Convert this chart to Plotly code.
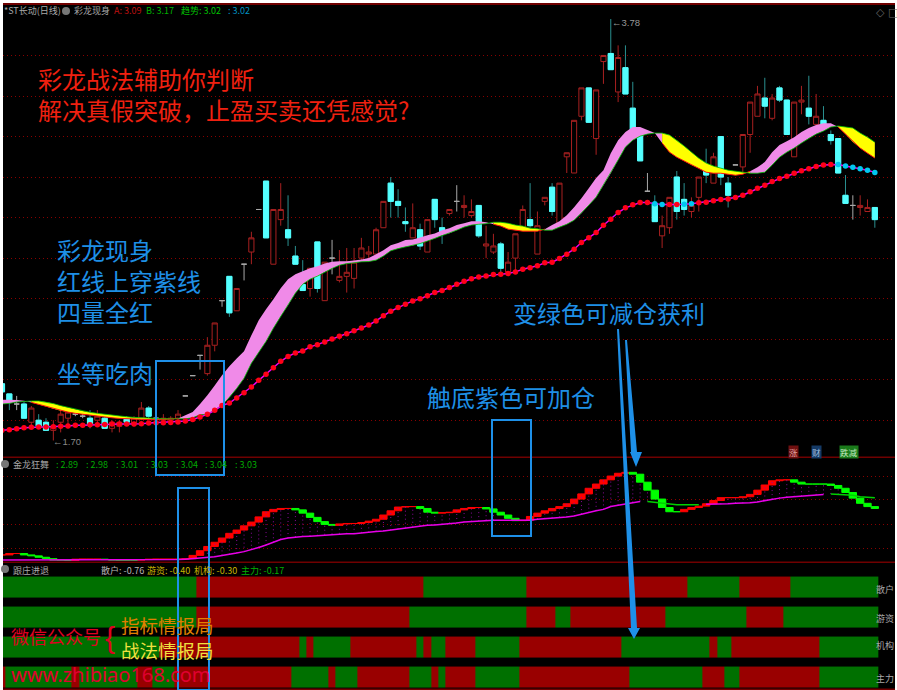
import plotly.graph_objects as go

W, H = 897, 690

opens = [1.98,1.93,1.88,1.88,1.79,1.80,1.79,1.75,1.79,1.81,
1.83,1.82,1.81,1.80,1.81,1.76,1.77,1.81,1.78,1.81,
1.86,1.81,1.80,1.80,1.81,1.92,2.02,2.12,2.03,2.17,
2.39,2.51,2.34,2.57,2.63,2.84,2.98,2.57,2.79,2.74,
2.61,2.47,2.45,2.68,2.39,2.60,2.49,2.51,2.50,2.60,
2.62,2.62,2.75,2.97,2.88,2.78,2.70,2.74,2.63,2.89,
2.75,2.82,2.88,2.85,2.81,2.86,2.66,2.63,2.67,2.53,
2.60,2.75,2.79,2.62,2.88,2.95,2.77,3.10,3.02,3.30,
3.44,3.19,3.57,3.61,3.42,3.54,3.34,3.22,2.93,2.87,
2.71,2.75,3.00,2.89,2.83,2.90,3.04,2.97,3.20,2.97,
3.06,3.05,3.21,3.30,3.39,3.29,3.44,3.38,3.10,3.37,
3.34,3.26,3.28,3.21,3.19,2.91,2.86,2.85,2.83,2.85]
closes = [1.94,1.90,1.88,1.81,1.86,1.77,1.75,1.77,1.83,1.84,
1.83,1.82,1.78,1.82,1.76,1.79,1.79,1.79,1.81,1.86,
1.82,1.81,1.81,1.81,1.83,1.92,2.02,2.12,2.17,2.28,
2.39,2.33,2.45,2.57,2.70,2.84,2.70,2.84,2.84,2.70,
2.57,2.44,2.55,2.45,2.58,2.60,2.51,2.53,2.58,2.65,
2.63,2.74,2.88,2.88,2.86,2.77,2.75,2.66,2.79,2.79,
2.72,2.84,2.88,2.86,2.83,2.71,2.67,2.66,2.55,2.58,
2.72,2.84,2.76,2.76,2.90,2.83,2.97,3.12,3.28,3.44,
3.27,3.43,3.60,3.53,3.59,3.41,3.23,3.08,2.93,2.78,
2.76,2.90,2.83,2.84,2.86,3.00,3.01,3.10,3.00,2.91,
3.06,3.21,3.37,3.41,3.35,3.39,3.38,3.21,3.37,3.38,
3.30,3.30,3.26,3.18,3.02,2.87,2.86,2.86,2.85,2.79]
highs = [1.98,1.93,1.92,1.89,1.87,1.83,1.81,1.80,1.85,1.85,
1.84,1.84,1.85,1.85,1.82,1.80,1.80,1.82,1.82,1.89,
1.87,1.82,1.83,1.82,1.85,1.92,2.02,2.12,2.21,2.28,
2.39,2.51,2.45,2.57,2.73,2.84,2.98,2.84,2.97,2.91,
2.66,2.59,2.55,2.68,2.58,2.69,2.64,2.65,2.65,2.70,
2.66,2.75,2.88,3.00,2.94,2.85,2.87,2.77,2.79,2.89,
2.80,2.84,2.96,2.91,2.89,2.86,2.76,2.72,2.68,2.63,
2.72,2.86,2.97,2.83,2.90,2.97,2.97,3.12,3.28,3.44,
3.44,3.43,3.60,3.78,3.65,3.65,3.47,3.22,3.02,2.91,
2.81,2.90,3.03,2.97,2.90,3.00,3.14,3.12,3.20,3.00,
3.06,3.21,3.37,3.45,3.49,3.41,3.45,3.38,3.37,3.45,
3.50,3.41,3.35,3.23,3.19,3.01,2.91,2.91,2.89,2.85]
lows = [1.94,1.85,1.85,1.81,1.76,1.76,1.75,1.70,1.74,1.76,
1.82,1.81,1.76,1.78,1.76,1.74,1.74,1.78,1.77,1.80,
1.81,1.80,1.80,1.79,1.80,1.92,2.02,2.05,2.02,2.14,
2.36,2.31,2.34,2.49,2.57,2.84,2.70,2.57,2.76,2.66,
2.57,2.44,2.41,2.43,2.39,2.52,2.48,2.43,2.45,2.59,
2.60,2.62,2.75,2.80,2.80,2.73,2.70,2.64,2.63,2.75,
2.67,2.81,2.83,2.80,2.80,2.70,2.60,2.62,2.53,2.53,
2.54,2.74,2.75,2.62,2.86,2.81,2.77,3.02,3.02,3.28,
3.27,3.11,3.46,3.53,3.37,3.41,3.23,3.08,2.93,2.78,
2.65,2.72,2.79,2.81,2.80,2.83,2.97,2.97,2.96,2.85,
3.06,3.02,3.12,3.30,3.29,3.28,3.37,3.21,3.10,3.31,
3.26,3.22,3.26,3.16,3.02,2.87,2.79,2.81,2.83,2.75]

trend = [1.750,1.753,1.758,1.763,1.765,1.766,1.766,1.768,1.770,1.771,
1.775,1.775,1.778,1.778,1.779,1.781,1.781,1.781,1.781,1.783,
1.786,1.788,1.788,1.789,1.791,1.796,1.804,1.816,1.829,1.849,
1.873,1.885,1.910,1.936,1.964,1.997,2.027,2.059,2.091,2.115,
2.132,2.142,2.162,2.173,2.186,2.201,2.214,2.227,2.241,2.255,
2.270,2.290,2.315,2.338,2.356,2.372,2.389,2.399,2.414,2.430,
2.440,2.455,2.471,2.486,2.498,2.507,2.512,2.519,2.521,2.524,
2.532,2.545,2.552,2.562,2.577,2.580,2.598,2.619,2.644,2.677,
2.700,2.726,2.762,2.792,2.825,2.848,2.863,2.874,2.874,2.868,
2.864,2.864,2.864,2.866,2.868,2.873,2.876,2.883,2.889,2.892,
2.899,2.910,2.927,2.945,2.960,2.978,2.993,3.004,3.019,3.031,
3.041,3.052,3.059,3.062,3.062,3.055,3.049,3.041,3.034,3.023]
trend_cyan = [89,90,93,94,114,115,116,117,118,119]

line_a = [1.901,1.901,1.900,1.896,1.888,1.878,1.868,1.857,1.847,1.840,
1.834,1.829,1.826,1.821,1.816,1.812,1.809,1.807,1.806,1.804,
1.804,1.802,1.804,1.806,1.809,1.824,1.840,1.880,1.923,1.972,
2.022,2.066,2.105,2.140,2.219,2.293,2.348,2.397,2.451,2.496,
2.520,2.535,2.550,2.560,2.573,2.582,2.585,2.585,2.588,2.593,
2.601,2.619,2.639,2.664,2.675,2.689,2.692,2.702,2.713,2.722,
2.738,2.748,2.763,2.772,2.782,2.782,2.777,2.767,2.758,2.743,
2.738,2.733,2.733,2.733,2.743,2.763,2.782,2.812,2.851,2.896,
2.945,2.995,3.034,3.118,3.182,3.222,3.247,3.247,3.232,3.217,
3.168,3.123,3.098,3.079,3.059,3.044,3.024,3.019,3.019,3.014,
3.009,3.014,3.029,3.049,3.074,3.123,3.158,3.177,3.197,3.222,
3.242,3.257,3.266,3.266,3.247,3.212,3.173,3.143,3.118,3.094]
line_b = [1.880,1.883,1.890,1.893,1.895,1.895,1.890,1.882,1.872,1.863,
1.854,1.845,1.839,1.834,1.829,1.826,1.821,1.817,1.814,1.812,
1.811,1.807,1.807,1.807,1.807,1.807,1.812,1.827,1.829,1.849,
1.873,1.913,1.957,2.007,2.081,2.135,2.189,2.254,2.313,2.367,
2.427,2.471,2.496,2.511,2.532,2.549,2.565,2.573,2.577,2.582,
2.583,2.590,2.610,2.636,2.647,2.656,2.662,2.672,2.684,2.697,
2.713,2.723,2.738,2.753,2.763,2.767,2.770,2.777,2.777,2.772,
2.763,2.758,2.748,2.745,2.738,2.738,2.753,2.767,2.787,2.822,
2.861,2.901,2.960,3.019,3.084,3.148,3.182,3.202,3.212,3.217,
3.217,3.207,3.182,3.153,3.123,3.093,3.069,3.054,3.044,3.034,
3.029,3.024,3.019,3.019,3.024,3.059,3.098,3.123,3.143,3.168,
3.192,3.212,3.227,3.247,3.252,3.247,3.242,3.217,3.197,3.172]

fast = [1.73,1.76,1.76,1.73,1.71,1.68,1.65,1.62,1.62,1.61,
1.64,1.64,1.64,1.64,1.63,1.62,1.62,1.62,1.62,1.63,
1.64,1.64,1.64,1.64,1.64,1.65,1.72,1.82,1.91,2.00,
2.09,2.19,2.26,2.35,2.43,2.54,2.65,2.70,2.72,2.72,
2.69,2.62,2.53,2.44,2.38,2.36,2.39,2.40,2.40,2.42,
2.45,2.49,2.58,2.67,2.75,2.76,2.76,2.72,2.64,2.62,
2.63,2.64,2.69,2.72,2.74,2.74,2.71,2.64,2.58,2.51,
2.46,2.47,2.55,2.62,2.67,2.72,2.76,2.82,2.92,3.03,
3.15,3.24,3.33,3.41,3.47,3.49,3.45,3.28,3.11,2.92,
2.74,2.65,2.65,2.70,2.74,2.77,2.82,2.89,2.95,2.95,
2.95,2.97,3.02,3.11,3.22,3.31,3.33,3.33,3.28,3.24,
3.24,3.24,3.24,3.21,3.15,3.06,2.94,2.83,2.76,2.72]
slow = [1.62,1.62,1.62,1.62,1.62,1.63,1.63,1.63,1.63,1.63,
1.63,1.63,1.63,1.63,1.63,1.63,1.63,1.63,1.63,1.63,
1.63,1.63,1.63,1.63,1.63,1.64,1.65,1.66,1.67,1.69,
1.72,1.74,1.77,1.80,1.84,1.89,1.94,2.00,2.06,2.09,
2.11,2.12,2.13,2.14,2.16,2.17,2.18,2.18,2.18,2.20,
2.21,2.23,2.24,2.26,2.28,2.31,2.33,2.35,2.36,2.37,
2.38,2.40,2.41,2.43,2.44,2.45,2.47,2.47,2.47,2.47,
2.47,2.47,2.47,2.49,2.50,2.52,2.53,2.54,2.56,2.60,
2.63,2.67,2.70,2.76,2.79,2.82,2.85,2.87,2.87,2.85,
2.83,2.82,2.80,2.80,2.80,2.80,2.81,2.81,2.81,2.82,
2.83,2.83,2.84,2.86,2.89,2.92,2.94,2.96,2.97,2.98,
2.99,3.01,3.02,3.03,3.02,3.01,3.00,2.97,2.96,2.95]
slow_green = list(range(88, 96)) + list(range(113, 120))

# change points for the four state strips; 1 = red, 0 = green, first run is given by the *_first value
retail_first, retail_changes = 0, [27,58,72,94,101,108]
hot_first, hot_changes = 0, [27,56,72,76,78,91,102,107]
inst_first, inst_changes = 0, [22,41,42,43,48,57,58,59,61,65,71,85,97,98,100,112]
main_first, main_changes = 1, [1,10,11,19,21,24,40,45,46,49,56,59,60,61,65,71,86,96,99,101,112]

price_grid = [3.6,3.4,3.2,3.0,2.8,2.6,2.4,2.2,2.0,1.8]
osc_grid = [3.41,2.92,2.37,1.86]

N = len(closes)
xs = list(range(N))
CN = "Noto Sans CJK SC"
def px(x): return x / W
def py(y): return 1 - y / H

fig = go.Figure()
RED_C, CY, TEAL, GRAY = "#a82020", "#54ffff", "#2a9090", "#a8a8a8"

def candle(idx, o, h, l, c, color, fill, width=1):
    fig.add_trace(go.Candlestick(x=idx, open=o, high=h, low=l, close=c, whiskerwidth=0,
        increasing=dict(line=dict(color=color, width=width), fillcolor=fill),
        decreasing=dict(line=dict(color=color, width=width), fillcolor=fill),
        hoverinfo="skip", showlegend=False))

up = [i for i in xs if closes[i] > opens[i]]
dn = [i for i in xs if closes[i] < opens[i]]
dj = [i for i in xs if closes[i] == opens[i]]
pick = lambda arr, idx: [arr[i] for i in idx]
candle(up, pick(opens,up), pick(highs,up), pick(lows,up), pick(closes,up), RED_C, "#000000")
candle(dn, pick(opens,dn), pick(highs,dn), pick(lows,dn), pick(closes,dn), TEAL, CY)
candle(dn, pick(opens,dn), pick(opens,dn), pick(closes,dn), pick(closes,dn), CY, CY)
candle(dj, pick(opens,dj), pick(highs,dj), pick(lows,dj), pick(closes,dj), GRAY, GRAY)

# ribbon: pink where A is above B, yellow where B is above A
start = 0
for i in range(1, N + 1):
    if i == N or (line_a[i] >= line_b[i]) != (line_a[start] >= line_b[start]):
        end = min(i, N - 1)
        seg = list(range(start, end + 1))
        rising = line_a[start] >= line_b[start]
        fig.add_trace(go.Scatter(x=seg + seg[::-1],
            y=pick(line_a, seg) + pick(line_b, seg)[::-1], fill="toself", mode="none",
            fillcolor="#f08ae8" if rising else "#ffff00", hoverinfo="skip", showlegend=False))
        if not rising:
            fig.add_trace(go.Scatter(x=seg, y=pick(line_a, seg), mode="lines",
                line=dict(color="#ff1010", width=1), hoverinfo="skip", showlegend=False))
        start = i
fig.add_trace(go.Scatter(x=xs, y=line_b, mode="lines", line=dict(color="#00c000", width=0.8),
    hoverinfo="skip", showlegend=False))

fig.add_trace(go.Scatter(x=xs, y=trend, mode="lines+markers",
    line=dict(color="#f000f0", width=1.5),
    marker=dict(size=5.5, color=["#00c8f0" if i in trend_cyan else "#ff0018" for i in xs], line=dict(width=0)),
    hoverinfo="skip", showlegend=False))

# oscillator panel
sx, sy = [], []
for i in xs:
    if i >= 28 and fast[i] - slow[i] > 0.12:
        sx += [i, i, None]; sy += [slow[i], fast[i], None]
fig.add_trace(go.Scatter(x=sx, y=sy, mode="lines", yaxis="y2",
    line=dict(color="#8a0a9a", width=1, dash="1px,3px"), hoverinfo="skip", showlegend=False))
bar_col, last = [], "#ff0000"
for i in xs:
    prev = fast[i - 1] if i else fast[i]
    if fast[i] > prev: last = "#ff0000"
    elif fast[i] < prev: last = "#00ff00"
    bar_col.append(last)
fig.add_trace(go.Bar(x=xs, y=[abs(fast[i] - (fast[i-1] if i else fast[i])) for i in xs],
    base=[min(fast[i], fast[i-1] if i else fast[i]) for i in xs], width=1, yaxis="y2",
    marker=dict(color=bar_col, line=dict(color=bar_col, width=1)), hoverinfo="skip", showlegend=False))
fig.add_trace(go.Scatter(x=xs, y=[None if i in slow_green else slow[i] for i in xs], mode="lines", yaxis="y2",
    line=dict(color="#e800e8", width=1.5), hoverinfo="skip", showlegend=False))
fig.add_trace(go.Scatter(x=xs, y=[slow[i] if i in slow_green else None for i in xs], mode="lines", yaxis="y2",
    line=dict(color="#00d000", width=1.5), hoverinfo="skip", showlegend=False))

# state strips
def expand(first, changes):
    out, s, c = [], first, 0
    for i in xs:
        if c < len(changes) and i == changes[c]:
            s, c = 1 - s, c + 1
        out.append(s)
    return out
rows = [expand(main_first, main_changes), expand(inst_first, inst_changes),
        expand(hot_first, hot_changes), expand(retail_first, retail_changes)]
fig.add_trace(go.Heatmap(z=rows, x=xs, y=[0, 1, 2, 3], zmin=0, zmax=1, ygap=9, showscale=False,
    colorscale=[[0, "#007000"], [1, "#990000"]], yaxis="y3", hoverinfo="skip"))

# texts
ann = []
def label(x, y, text, color, size, family=CN, anchor="left", **kw):
    ann.append(dict(x=px(x), y=py(y), xref="paper", yref="paper", text=text, showarrow=False,
        xanchor=anchor, yanchor="middle", align="left", font=dict(color=color, size=size, family=family),
        borderpad=0, **kw))

TXT_R, TXT_B = "#f02010", "#1e8fe6"
label(37, 94, "彩龙战法辅助你判断<br>解决真假突破，止盈买卖还凭感觉?", TXT_R, 24)
label(56, 281, "彩龙现身<br>红线上穿紫线<br>四量全红", TXT_B, 24)
label(56, 372, "坐等吃肉", TXT_B, 24)
label(512, 312, "变绿色可减仓获利", TXT_B, 24)
label(426, 396, "触底紫色可加仓", TXT_B, 24)

label(3, 11, "*ST长动(日线)", GRAY, 9)
label(73, 11, "彩龙现身", GRAY, 9)
label(113, 11, "A: 3.09", "#c01010", 9)
label(145, 11, "B: 3.17", "#00b000", 9)
label(180, 11, "趋势: 3.02", "#00c000", 9)
label(227, 11, ": 3.02", "#0090c0", 9)
label(12, 464, "金龙狂舞", GRAY, 9)
for x, t in zip([55, 85, 115, 145, 175, 204, 234], ["2.89","2.98","3.01","3.03","3.04","3.04","3.03"]):
    label(x, 464, ": " + t, "#00a800", 9)
label(12, 570, "跟庄进退", GRAY, 9)
label(100, 570, "散户: -0.76", "#b8b8b8", 9)
label(146, 570, "游资: -0.40", "#c8b400", 9)
label(193, 570, "机构: -0.30", "#c8b400", 9)
label(240, 570, "主力: -0.17", "#00b000", 9)
for y, t in zip([589, 618, 645, 678], ["散户", "游资", "机构", "主力"]):
    label(875, y, t, GRAY, 9)
label(52, 441, "←1.70", "#888888", 9.5, "Liberation Sans")
label(611, 23, "←3.78", "#999999", 9.5, "Liberation Sans")
label(880, 12, "◇", "#666666", 11, "DejaVu Sans", "center")
label(893, 12, "□", "#666666", 11, "DejaVu Sans", "center")
label(793, 452, "涨", "#e0a0a0", 8.5, anchor="center", bgcolor="#701010")
label(816, 452, "财", "#a0c0e0", 8.5, anchor="center", bgcolor="#153a66")
label(849, 452, "跌减", "#c0e8c0", 8.5, anchor="center", bgcolor="#1a7a1a")

label(10, 636, "微信公众号", "#e00020", 18)
label(104, 637, "{", "#e00020", 30, "Liberation Sans")
label(120, 625, "指标情报局", "#e08000", 18.5)
label(120, 650, "战法情报局", "#f0e040", 18.5)
label(10, 674, "www.zhibiao168.com", "#e00030", 20, "Noto Sans")

# overlays and frame
shp = []
def rect(x0, y0, x1, y1, **kw):
    shp.append(dict(type="rect", xref="paper", yref="paper", x0=px(x0), x1=px(x1), y0=py(y0), y1=py(y1), **kw))
def poly(points, color):
    d = "M" + " L".join(f"{px(a):.5f},{py(b):.5f}" for a, b in points) + " Z"
    shp.append(dict(type="path", xref="paper", yref="paper", path=d, fillcolor=color, line=dict(width=0)))

for y0, y1 in [(3, 5), (456.5, 458), (561.5, 563), (688.5, 690)]:
    rect(3, y0, 895, y1, fillcolor="#700000", line=dict(width=0), layer="above")
BL = "#1e90e8"
for x0, y0, x1, y1 in [(156, 361, 224, 475), (178, 488, 209, 690), (492, 420, 531, 536)]:
    rect(x0, y0, x1, y1, line=dict(color=BL, width=2), fillcolor="rgba(0,0,0,0)", layer="above")
poly([(617,329),(619,329),(637,628),(640,628),(634,639),(628,628),(631,628)], BL)
poly([(625,340),(627,340),(637,452),(642,452),(636,467),(630,452),(631,452)], BL)
# legend icons
for cx, cy in [(66, 11), (5, 464), (5, 569)]:
    shp.append(dict(type="circle", xref="paper", yref="paper", x0=px(cx-4), x1=px(cx+4), y0=py(cy+4), y1=py(cy-4),
        fillcolor="#777777", line=dict(width=0), layer="above"))

axis_off = dict(showline=False, zeroline=False, showticklabels=False, ticks="")
grid = dict(showgrid=True, gridcolor="#880000", griddash="1px,3px", gridwidth=1)
fig.update_layout(
    width=W, height=H, autosize=False, margin=dict(l=0, r=0, t=0, b=0),
    paper_bgcolor="#ffffff", plot_bgcolor="#000000", showlegend=False, boxgap=0.3, boxgroupgap=0,
    xaxis=dict(domain=[px(3), px(895)], range=[0.136, 121.75], showgrid=False, rangeslider=dict(visible=False), **axis_off),
    yaxis=dict(domain=[py(458), py(3)], range=[1.6136, 3.859], tickvals=price_grid, anchor="x", **grid, **axis_off),
    yaxis2=dict(domain=[py(563), py(458)], range=[1.558, 3.795], tickvals=osc_grid, anchor="x", **grid, **axis_off),
    yaxis3=dict(domain=[py(690), py(563)], range=[-0.417, 3.817], showgrid=False, anchor="x", **axis_off),
    annotations=ann, shapes=shp,
)
fig.write_html("out.html", config=dict(displayModeBar=False),
               post_script="document.body.style.margin='0';document.body.style.overflow='hidden';")
